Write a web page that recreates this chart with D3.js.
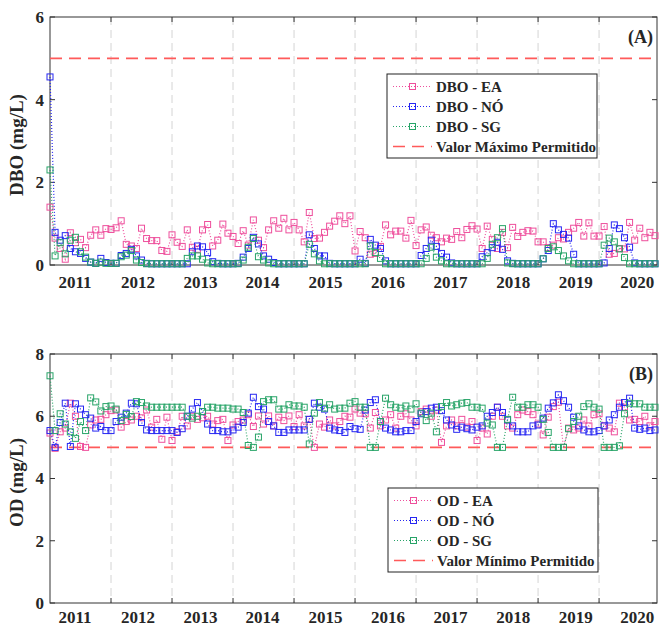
<!DOCTYPE html>
<html>
<head>
<meta charset="utf-8">
<script src="https://cdn.jsdelivr.net/npm/d3@7"></script>
<style>
  body { margin: 0; background: #fff; }
  svg { display: block; }
  text { font-family: "Liberation Serif", "Times New Roman", serif; font-weight: bold; fill: #262626; }
</style>
</head>
<body>
<svg id="chart" width="659" height="628"></svg>
<script>
// monthly samples, index 0..119
const years = ["2011", "2012", "2013", "2014", "2015", "2016", "2017", "2018", "2019", "2020"];
const yearLabelAt = [4.9, 17.3, 29.6, 41.8, 54.2, 66.5, 78.8, 91.1, 103.4, 115.5];
const yearGridAt = [12, 24, 36, 48, 60, 72, 84, 96, 108];

const dboEA = [
  1.40, 0.65, 0.40, 0.14, 0.78, 0.54, 0.62, 0.42, 0.72, 0.85, 0.72, 0.88,
  0.86, 0.90, 1.07, 0.50, 0.46, 0.40, 0.89, 0.64, 0.59, 0.59, 0.35, 0.33,
  0.73, 0.55, 0.45, 0.85, 0.43, 0.38, 0.85, 0.98, 0.46, 0.60, 0.99, 0.77,
  0.69, 0.52, 0.83, 0.48, 1.09, 0.60, 0.42, 0.85, 1.07, 0.89, 1.13, 0.85,
  1.03, 0.85, 0.56, 1.27, 0.64, 0.65, 0.79, 0.94, 1.06, 1.19, 1.00, 1.19,
  0.34, 0.81, 0.66, 0.26, 0.28, 0.45, 0.97, 0.73, 0.82, 0.82, 0.65, 1.08,
  0.47, 0.85, 0.92, 0.72, 0.66, 0.56, 0.65, 0.62, 0.81, 0.66, 0.86, 0.95,
  0.87, 0.40, 0.94, 0.62, 0.40, 0.79, 0.42, 0.91, 0.69, 0.79, 0.83, 0.82,
  0.56, 0.56, 0.42, 0.48, 0.66, 0.63, 0.79, 0.89, 1.03, 0.70, 1.02, 0.70,
  0.70, 0.93, 0.26, 0.28, 0.40, 0.39, 1.03, 0.60, 0.89, 0.66, 0.79, 0.71
];
const dboNO = [
  4.55, 0.79, 0.60, 0.71, 0.40, 0.32, 0.28, 0.16, 0.07, 0.04, 0.16, 0.06,
  0.04, 0.04, 0.23, 0.28, 0.38, 0.22, 0.12, 0.04, 0.03, 0.03, 0.03, 0.03,
  0.03, 0.03, 0.03, 0.03, 0.32, 0.46, 0.44, 0.30, 0.08, 0.04, 0.03, 0.03,
  0.03, 0.04, 0.19, 0.40, 0.67, 0.51, 0.22, 0.14, 0.06, 0.03, 0.03, 0.03,
  0.03, 0.03, 0.03, 0.73, 0.40, 0.22, 0.22, 0.04, 0.03, 0.03, 0.03, 0.03,
  0.03, 0.14, 0.04, 0.62, 0.48, 0.40, 0.10, 0.03, 0.03, 0.03, 0.03, 0.03,
  0.03, 0.23, 0.40, 0.60, 0.45, 0.28, 0.19, 0.05, 0.03, 0.03, 0.03, 0.03,
  0.03, 0.20, 0.30, 0.42, 0.55, 0.38, 0.10, 0.04, 0.03, 0.03, 0.03, 0.03,
  0.03, 0.15, 0.35, 1.00, 0.85, 0.74, 0.65, 0.26, 0.03, 0.03, 0.03, 0.03,
  0.03, 0.05, 0.40, 0.97, 0.88, 0.66, 0.43, 0.05, 0.03, 0.03, 0.03, 0.03
];
const dboSG = [
  2.30, 0.22, 0.54, 0.27, 0.60, 0.67, 0.32, 0.19, 0.07, 0.04, 0.07, 0.04,
  0.04, 0.04, 0.20, 0.24, 0.35, 0.12, 0.06, 0.03, 0.03, 0.03, 0.03, 0.03,
  0.03, 0.03, 0.03, 0.16, 0.22, 0.22, 0.14, 0.05, 0.03, 0.03, 0.03, 0.03,
  0.03, 0.03, 0.12, 0.43, 0.64, 0.20, 0.12, 0.05, 0.03, 0.03, 0.03, 0.03,
  0.03, 0.03, 0.03, 0.50, 0.27, 0.10, 0.03, 0.03, 0.03, 0.03, 0.03, 0.03,
  0.03, 0.03, 0.03, 0.46, 0.30, 0.16, 0.03, 0.03, 0.03, 0.03, 0.03, 0.03,
  0.03, 0.03, 0.16, 0.43, 0.19, 0.10, 0.03, 0.03, 0.03, 0.03, 0.03, 0.03,
  0.03, 0.03, 0.16, 0.50, 0.66, 0.88, 0.05, 0.03, 0.03, 0.03, 0.03, 0.03,
  0.03, 0.15, 0.40, 0.44, 0.35, 0.22, 0.10, 0.03, 0.03, 0.03, 0.03, 0.03,
  0.03, 0.48, 0.65, 0.56, 0.39, 0.18, 0.03, 0.03, 0.03, 0.03, 0.03, 0.03
];

const odEA = [
  5.46, 4.97, 5.50, 5.62, 6.42, 6.00, 5.03, 5.00, 5.72, 5.88, 5.90, 6.05,
  6.18, 6.20, 5.65, 5.83, 5.88, 6.00, 5.95, 6.20, 5.65, 5.90, 5.26, 5.97,
  5.22, 5.50, 6.00, 5.69, 6.00, 5.90, 5.95, 6.00, 5.75, 5.86, 5.90, 5.22,
  5.72, 5.83, 5.88, 6.05, 5.67, 6.01, 5.75, 6.01, 5.69, 5.97, 5.86, 6.01,
  5.67, 6.05, 5.69, 5.90, 5.00, 5.75, 5.65, 5.88, 5.69, 5.83, 6.00, 5.97,
  6.23, 6.10, 6.08, 5.62, 6.12, 5.69, 5.88, 6.05, 5.62, 6.00, 6.08, 5.88,
  5.69, 6.15, 6.23, 6.00, 6.20, 5.16, 5.69, 5.88, 5.69, 5.90, 5.65, 5.83,
  5.22, 5.62, 5.43, 6.00, 6.29, 6.00, 5.69, 5.62, 6.05, 6.20, 6.15, 6.05,
  5.75, 5.40, 5.97, 6.31, 6.45, 5.00, 5.62, 5.56, 5.62, 5.88, 5.69, 6.05,
  6.08, 5.69, 5.62, 5.50, 6.42, 6.29, 5.88, 5.90, 5.83, 6.00, 5.69, 5.83
];
const odNO = [
  5.54, 5.00, 5.80, 6.42, 5.03, 6.40, 6.23, 6.05, 5.94, 5.62, 5.67, 5.54,
  5.54, 5.83, 5.97, 6.10, 6.42, 6.40, 5.80, 5.56, 5.54, 5.54, 5.54, 5.54,
  5.54, 5.48, 5.60, 6.00, 6.23, 6.44, 6.15, 5.75, 5.54, 5.54, 5.50, 5.50,
  5.56, 5.65, 5.80, 6.10, 6.61, 6.31, 6.23, 5.83, 5.69, 5.48, 5.48, 5.56,
  5.56, 5.56, 5.56, 5.90, 6.42, 6.29, 6.23, 5.62, 5.56, 5.54, 5.48, 5.67,
  5.60, 5.58, 6.20, 6.44, 6.53, 5.83, 5.62, 5.56, 5.50, 5.50, 5.54, 5.54,
  5.83, 6.08, 6.15, 6.26, 6.29, 6.18, 5.88, 5.72, 5.58, 5.65, 5.60, 5.56,
  5.65, 5.69, 6.00, 6.12, 6.29, 6.12, 5.88, 5.69, 5.50, 5.50, 5.50, 5.69,
  5.72, 5.94, 6.26, 6.43, 6.69, 6.50, 6.29, 5.97, 5.69, 5.56, 5.50, 5.50,
  5.54, 5.69, 5.88, 6.05, 6.29, 6.44, 6.58, 5.62, 5.58, 5.62, 5.54, 5.56
];
const odSG = [
  7.30, 5.54, 6.08, 5.75, 5.50, 5.29, 5.83, 5.54, 6.59, 6.46, 6.17, 6.31,
  6.33, 6.23, 5.86, 6.06, 5.99, 6.47, 6.44, 6.33, 6.29, 6.29, 6.29, 6.29,
  6.29, 6.29, 6.29, 6.00, 5.94, 6.00, 6.15, 6.29, 6.29, 6.26, 6.26, 6.26,
  6.23, 6.23, 6.12, 5.06, 5.00, 5.33, 6.47, 6.53, 6.53, 6.23, 6.23, 6.37,
  6.33, 6.33, 6.29, 5.11, 6.10, 6.44, 6.26, 6.37, 6.23, 6.26, 6.26, 6.42,
  6.47, 6.29, 6.29, 5.00, 5.00, 5.83, 6.58, 6.37, 6.29, 6.26, 6.33, 6.23,
  6.40, 6.10, 5.86, 6.10, 5.50, 6.31, 6.44, 6.33, 6.37, 6.42, 6.44, 6.29,
  6.29, 6.26, 5.78, 5.72, 5.00, 5.00, 5.90, 6.61, 6.29, 6.29, 6.37, 6.37,
  6.29, 5.90, 5.48, 5.00, 5.00, 5.00, 5.60, 5.83, 6.00, 6.31, 6.40, 6.29,
  6.23, 5.00, 5.00, 5.00, 5.05, 6.08, 6.42, 6.40, 6.40, 6.29, 6.29, 6.29
];

const stationColors = ["#ee4f9c", "#2727f2", "#28a468"];
const limitColor = "#ff5a5a";

const svg = d3.select("#chart");
const left = 50, right = 657;

const x = d3.scaleLinear().domain([0, 119]).range([left, 655]);

function drawPanel(p) {
  const y = d3.scaleLinear().domain([0, p.yMax]).range([p.bottom, p.top]);
  const g = svg.append("g");

  // vertical dashed grid at year changes
  g.selectAll(".grid")
    .data(yearGridAt)
    .enter()
    .append("line")
    .attr("x1", d => x(d)).attr("x2", d => x(d))
    .attr("y1", p.top).attr("y2", p.bottom)
    .attr("stroke", "#d4d4d4")
    .attr("stroke-width", 1)
    .attr("stroke-dasharray", "8,5");

  // frame
  g.append("rect")
    .attr("x", left).attr("y", p.top)
    .attr("width", right - left).attr("height", p.bottom - p.top)
    .attr("fill", "none")
    .attr("stroke", "#333")
    .attr("stroke-width", 1);

  // inward ticks: top and bottom at year grid, left and right at y ticks
  g.selectAll(".xt")
    .data(yearGridAt.flatMap(d => [[d, p.top, 5], [d, p.bottom, -5]]))
    .enter()
    .append("line")
    .attr("x1", d => x(d[0])).attr("x2", d => x(d[0]))
    .attr("y1", d => d[1]).attr("y2", d => d[1] + d[2])
    .attr("stroke", "#333");
  g.selectAll(".yt")
    .data(p.yTicks.flatMap(d => [[d, left, 5], [d, right, -5]]))
    .enter()
    .append("line")
    .attr("x1", d => d[1]).attr("x2", d => d[1] + d[2])
    .attr("y1", d => y(d[0])).attr("y2", d => y(d[0]))
    .attr("stroke", "#333");

  g.selectAll(".ylab")
    .data(p.yTicks)
    .enter()
    .append("text")
    .attr("x", 44)
    .attr("y", d => y(d))
    .attr("dy", "0.35em")
    .attr("text-anchor", "end")
    .style("font-size", "17px")
    .text(d => d);

  g.selectAll(".xlab")
    .data(years)
    .enter()
    .append("text")
    .attr("x", (d, i) => x(yearLabelAt[i]))
    .attr("y", p.bottom + p.xLabelGap)
    .attr("text-anchor", "middle")
    .style("font-size", "17px")
    .text(d => d);

  g.append("text")
    .attr("transform", `translate(23, ${(p.top + p.bottom) / 2 + 4}) rotate(-90)`)
    .attr("text-anchor", "middle")
    .style("font-size", "19px")
    .text(p.yLabel);

  g.append("text")
    .attr("x", 653)
    .attr("y", p.top + 26)
    .attr("text-anchor", "end")
    .style("font-size", "18px")
    .text(p.tag);

  // limit line
  g.append("line")
    .attr("x1", left).attr("x2", right)
    .attr("y1", y(p.limit)).attr("y2", y(p.limit))
    .attr("stroke", limitColor)
    .attr("stroke-width", 1.6)
    .attr("stroke-dasharray", "12,7");

  const line = d3.line()
    .x((d, i) => x(i))
    .y(d => y(d));

  p.series.forEach((values, k) => {
    g.append("path")
      .attr("d", line(values))
      .attr("fill", "none")
      .attr("stroke", stationColors[k])
      .attr("stroke-width", 1.2)
      .attr("stroke-dasharray", "1,2");
    g.selectAll(".m" + k)
      .data(values)
      .enter()
      .append("rect")
      .attr("x", (d, i) => x(i) - 3)
      .attr("y", d => y(d) - 3)
      .attr("width", 6).attr("height", 6)
      .attr("fill", "none")
      .attr("stroke", stationColors[k])
      .attr("stroke-width", 1);
  });

  // legend
  const lg = g.append("g").attr("transform", `translate(${p.legend[0]}, ${p.legend[1]})`);
  lg.append("rect")
    .attr("width", 210).attr("height", 84)
    .attr("fill", "#fff")
    .attr("stroke", "#222")
    .attr("stroke-width", 1);
  const entries = p.names.map((n, k) => ({ name: n, color: stationColors[k], limit: false }))
    .concat([{ name: p.limitName, color: limitColor, limit: true }]);
  const rows = lg.selectAll(".entry")
    .data(entries)
    .enter()
    .append("g")
    .attr("transform", (d, i) => `translate(0, ${12.5 + i * 20})`);
  rows.append("line")
    .attr("x1", 6).attr("x2", 45)
    .attr("stroke", d => d.color)
    .attr("stroke-width", d => d.limit ? 1.6 : 1.2)
    .attr("stroke-dasharray", d => d.limit ? "12,7" : "1,2");
  rows.filter(d => !d.limit)
    .append("rect")
    .attr("x", 22.5).attr("y", -3)
    .attr("width", 6).attr("height", 6)
    .attr("fill", "none")
    .attr("stroke", d => d.color);
  rows.append("text")
    .attr("x", 49)
    .attr("dy", "0.35em")
    .style("font-size", "15px")
    .text(d => d.name);
}

drawPanel({
  top: 17, bottom: 265, yMax: 6, yTicks: [0, 2, 4, 6], limit: 5,
  yLabel: "DBO (mg/L)", tag: "(A)", xLabelGap: 23,
  series: [dboEA, dboNO, dboSG],
  names: ["DBO - EA", "DBO - NÓ", "DBO - SG"],
  limitName: "Valor Máximo Permitido",
  legend: [387, 74]
});

drawPanel({
  top: 354, bottom: 603, yMax: 8, yTicks: [0, 2, 4, 6, 8], limit: 5,
  yLabel: "OD (mg/L)", tag: "(B)", xLabelGap: 20,
  series: [odEA, odNO, odSG],
  names: ["OD - EA", "OD - NÓ", "OD - SG"],
  limitName: "Valor Mínimo Permitido",
  legend: [388, 488]
});
</script>
</body>
</html>
